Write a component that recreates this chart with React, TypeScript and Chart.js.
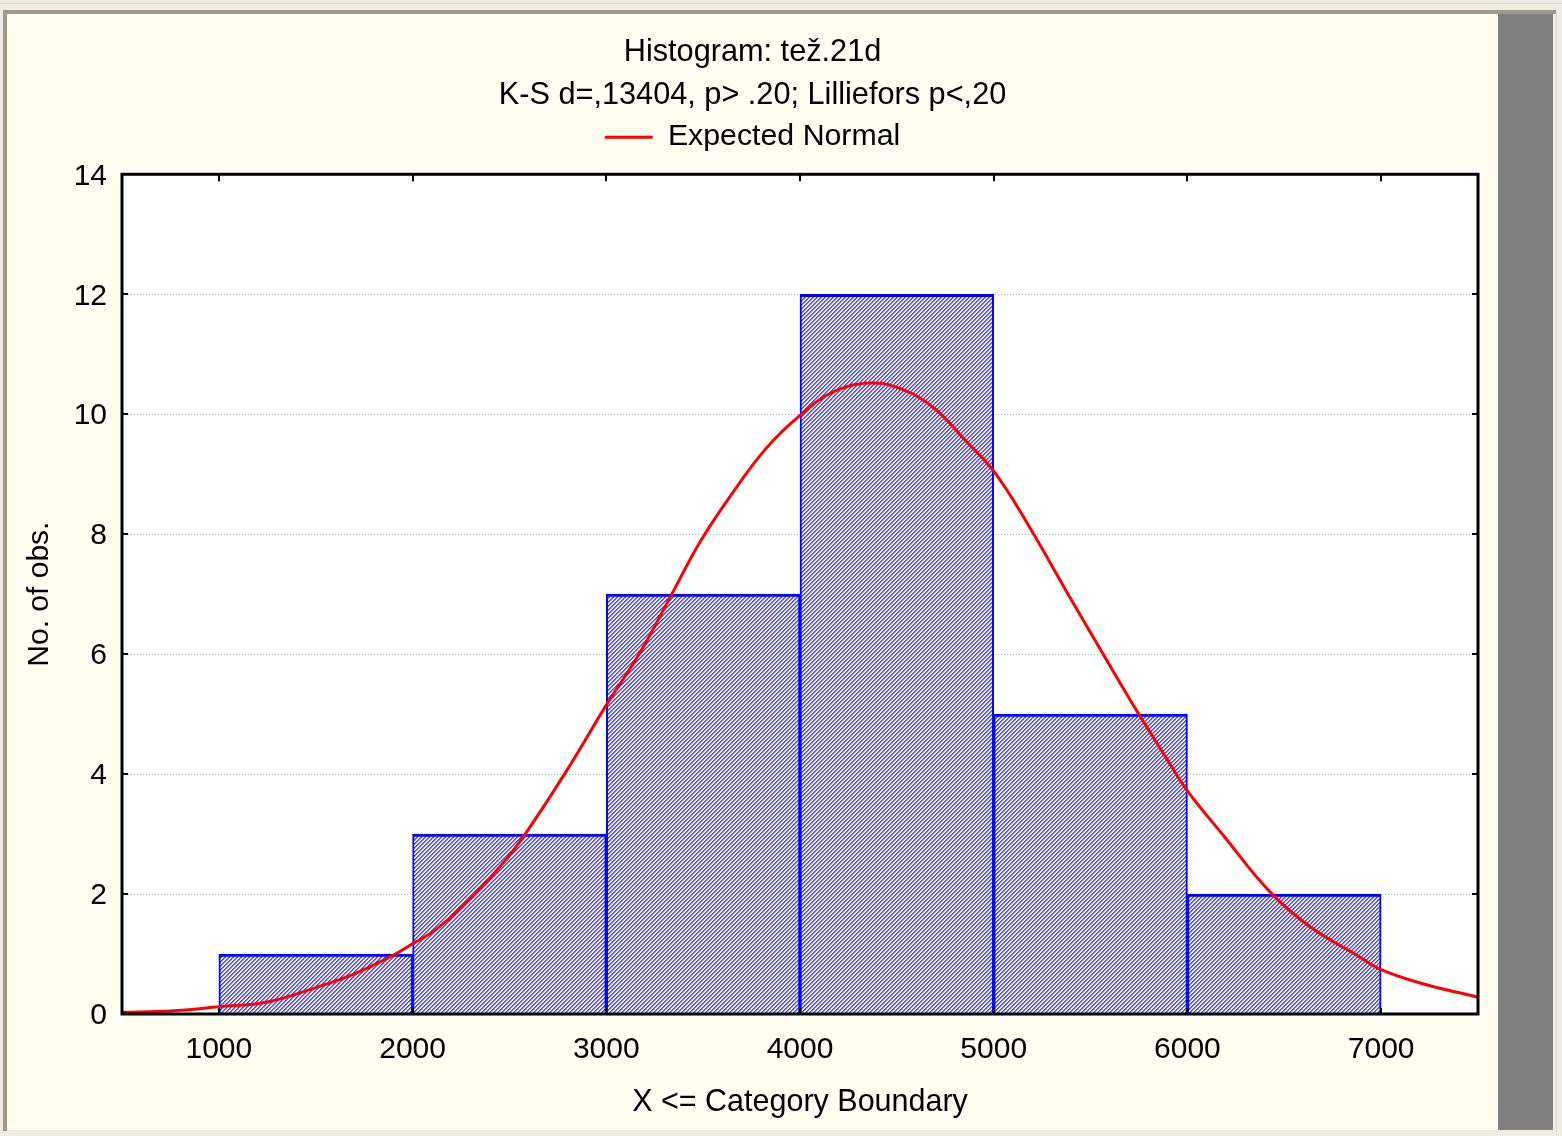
import React, { useEffect, useRef } from 'react';
import { Chart, registerables } from 'chart.js';

Chart.register(...registerables);

const TITLE = 'Histogram: tež.21d';
const SUBTITLE = 'K-S d=,13404, p> .20; Lilliefors p<,20';
const LEGEND_LABEL = 'Expected Normal';
const X_TITLE = 'X <= Category Boundary';
const Y_TITLE = 'No. of obs.';

// histogram bins (lower / upper boundaries) and counts
const binLower = [1000, 2000, 3000, 4000, 5000, 6000];
const binUpper = [2000, 3000, 4000, 5000, 6000, 7000];
const counts = [1, 3, 7, 12, 5, 2];

// expected normal curve
const normalX = [500, 750, 1000, 1250, 1500, 1700, 1900, 2000, 2125, 2300, 2450, 2575, 2800, 3000, 3175, 3335, 3480, 3650, 3825, 4000, 4170, 4360, 4515, 4685, 4860, 5000, 5170, 5375, 5565, 5745, 5875, 6000, 6185, 6425, 6635, 6875, 7000, 7220, 7500];
const normalY = [0.03, 0.05, 0.12, 0.2, 0.44, 0.67, 0.98, 1.17, 1.42, 1.93, 2.45, 2.97, 4.08, 5.15, 6.03, 6.98, 7.85, 8.68, 9.43, 9.98, 10.37, 10.52, 10.43, 10.12, 9.54, 9.05, 8.2, 7.05, 6.0, 5.02, 4.35, 3.72, 2.98, 2.04, 1.45, 0.98, 0.74, 0.5, 0.28];

// axis ticks
const xTickValues = [1000, 2000, 3000, 4000, 5000, 6000, 7000];
const xMin = 500;
const xMax = 7500;
const yMin = 0;
const yMax = 14;
const yStep = 2;

const FONT = "'Liberation Sans', Arial, Helvetica, sans-serif";

function makeHatch(ctx: CanvasRenderingContext2D): CanvasPattern | string {
  const pc = document.createElement('canvas');
  pc.width = 4;
  pc.height = 4;
  const p = pc.getContext('2d');
  if (!p) return '#9898ff';
  const shades = ['#3c3cff', '#7878ff', '#dcdcff', '#ffffff'];
  for (let y = 0; y < 4; y++) {
    for (let x = 0; x < 4; x++) {
      p.fillStyle = shades[(x + y) % 4];
      p.fillRect(x, y, 1, 1);
    }
  }
  return ctx.createPattern(pc, 'repeat') || '#9898ff';
}

const plotBg = {
  id: 'plotBg',
  beforeDraw(chart: any) {
    const { ctx, chartArea } = chart;
    if (!chartArea) return;
    ctx.save();
    ctx.fillStyle = '#ffffff';
    ctx.fillRect(chartArea.left, chartArea.top, chartArea.right - chartArea.left, chartArea.bottom - chartArea.top);
    ctx.restore();
  },
};

const frame = {
  id: 'frame',
  afterDatasetsDraw(chart: any) {
    const { ctx, chartArea } = chart;
    const { left, right, top, bottom } = chartArea;
    const xs = chart.scales.x;
    const ys = chart.scales.y;
    ctx.save();
    ctx.strokeStyle = '#000000';
    ctx.lineWidth = 2;
    ctx.beginPath();
    for (const v of xTickValues) {
      const px = Math.round(xs.getPixelForValue(v));
      ctx.moveTo(px, top);
      ctx.lineTo(px, top + 7);
      ctx.moveTo(px, bottom);
      ctx.lineTo(px, bottom - 6);
    }
    for (const t of ys.ticks) {
      const py = Math.round(ys.getPixelForValue(t.value));
      ctx.moveTo(left, py);
      ctx.lineTo(left + 6, py);
      ctx.moveTo(right, py);
      ctx.lineTo(right - 6, py);
    }
    ctx.stroke();
    ctx.lineWidth = 3;
    ctx.strokeRect(left, top, right - left, bottom - top);
    ctx.restore();
  },
};

const legendGap = {
  id: 'legendGap',
  beforeLayout(chart: any) {
    const lg = chart.legend;
    if (lg && !lg.__gap) {
      const orig = lg.fit.bind(lg);
      lg.fit = function () {
        orig();
        this.height += 12;
      };
      lg.__gap = true;
    }
  },
};

export default function App() {
  const ref = useRef<HTMLCanvasElement | null>(null);

  useEffect(() => {
    const canvas = ref.current;
    if (!canvas) return;
    const ctx = canvas.getContext('2d');
    if (!ctx) return;
    Chart.defaults.font.family = FONT;
    Chart.defaults.color = '#000000';
    const hatch = makeHatch(ctx);

    const chart = new Chart(canvas, {
      type: 'bar',
      data: {
        datasets: [
          {
            type: 'line',
            label: LEGEND_LABEL,
            data: normalX.map((x, i) => ({ x, y: normalY[i] })),
            borderColor: '#ff0000',
            backgroundColor: '#ff0000',
            borderWidth: 3,
            pointRadius: 0,
            tension: 0.4,
            fill: false,
            order: 0,
          } as any,
          {
            type: 'bar',
            label: 'Histogram',
            data: counts.map((c, i) => ({ x: (binLower[i] + binUpper[i]) / 2, y: c })),
            backgroundColor: hatch as any,
            borderColor: '#0000ff',
            borderWidth: { top: 3, left: 2, right: 2, bottom: 0 },
            borderSkipped: false,
            barPercentage: 1,
            categoryPercentage: 1,
            order: 1,
          } as any,
        ],
      },
      options: {
        responsive: false,
        animation: false,
        layout: { padding: { top: 0, left: 0, right: 0, bottom: 0 } },
        plugins: {
          title: {
            display: true,
            text: TITLE,
            color: '#000000',
            font: { size: 30.7, weight: 'normal' as any, family: FONT },
            padding: { top: 20.6, bottom: 0 },
          },
          subtitle: {
            display: true,
            text: SUBTITLE,
            color: '#000000',
            font: { size: 30.7, weight: 'normal' as any, family: FONT },
            padding: { top: 6.1, bottom: 0 },
          },
          legend: {
            display: true,
            position: 'top',
            labels: {
              usePointStyle: true,
              pointStyle: 'line',
              pointStyleWidth: 48,
              color: '#000000',
              font: { size: 30.3, family: FONT },
              padding: 7.6,
              filter: (item: any) => item.datasetIndex === 0,
            },
          },
          tooltip: { enabled: false },
        },
        scales: {
          x: {
            type: 'linear',
            min: xMin,
            max: xMax,
            offset: false,
            afterBuildTicks: (s: any) => {
              s.ticks = xTickValues.map((v) => ({ value: v }));
            },
            afterFit: (s: any) => {
              s.height = 116;
            },
            grid: { display: false, drawTicks: false },
            border: { display: false },
            ticks: {
              padding: 18,
              color: '#000000',
              font: { size: 30, family: FONT },
              maxRotation: 0,
              autoSkip: false,
              callback: (v: any) => String(v),
            },
            title: {
              display: true,
              text: X_TITLE,
              color: '#000000',
              font: { size: 30.5, family: FONT },
              padding: { top: 9, bottom: 9 },
            },
          },
          y: {
            type: 'linear',
            position: 'left',
            min: yMin,
            max: yMax,
            afterFit: (s: any) => {
              s.width = 115;
            },
            grid: { color: '#b4b4b4', lineWidth: 1, drawTicks: false },
            border: { display: false, dash: [1, 2] },
            ticks: {
              stepSize: yStep,
              padding: 15,
              labelOffset: 2,
              color: '#000000',
              font: { size: 30, family: FONT },
              callback: (v: any) => String(v),
            },
            title: {
              display: true,
              text: Y_TITLE,
              color: '#000000',
              font: { size: 30, family: FONT },
              padding: { top: 15, bottom: 15 },
            },
          },
          yRight: {
            type: 'linear',
            position: 'right',
            display: true,
            min: yMin,
            max: yMax,
            afterFit: (s: any) => {
              s.width = 20;
            },
            grid: { display: false, drawTicks: false },
            border: { display: false },
            ticks: { display: false },
          },
        },
      } as any,
      plugins: [plotBg, frame, legendGap],
    });

    return () => {
      chart.destroy();
    };
  }, []);

  return (
    <div style={{ position: 'absolute', left: 0, top: 0, width: 1562, height: 1136, background: '#efede2', overflow: 'hidden' }}>
      <div style={{ position: 'absolute', left: 0, top: 3, width: 1562, height: 1, background: '#e2dfd0' }} />
      <div style={{ position: 'absolute', left: 3, top: 10, width: 1553, height: 4, background: '#9d9a88' }} />
      <div style={{ position: 'absolute', left: 3, top: 10, width: 4, height: 1121, background: '#9d9a88' }} />
      <div style={{ position: 'absolute', left: 1556, top: 10, width: 1, height: 1122, background: '#dcd9ca' }} />
      <div style={{ position: 'absolute', left: 7, top: 14, width: 1491, height: 1116, background: '#fffcf0' }} />
      <div style={{ position: 'absolute', left: 1498, top: 14, width: 55, height: 1116, background: '#808080' }} />
      <canvas
        ref={ref}
        width={1491}
        height={1116}
        style={{ position: 'absolute', left: 7, top: 14, width: 1491, height: 1116 }}
      />
    </div>
  );
}
